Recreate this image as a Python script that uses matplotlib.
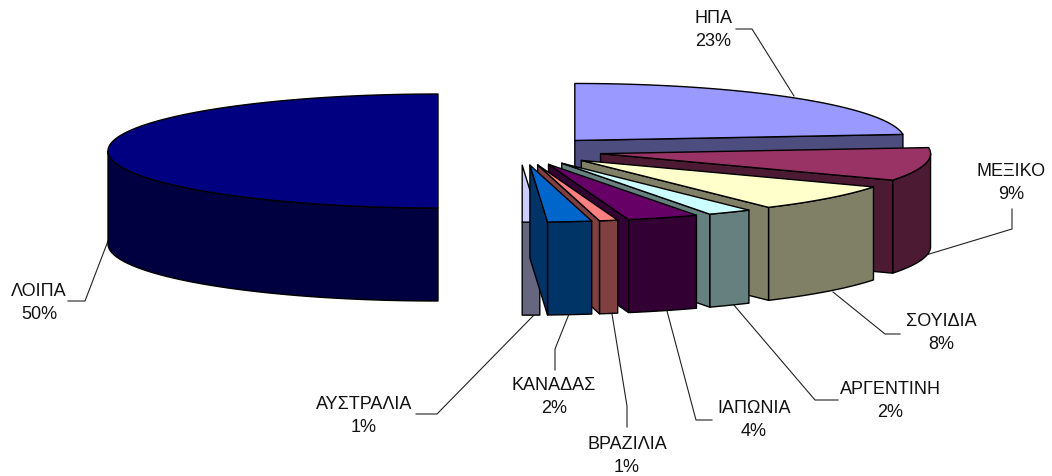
import numpy as np
import matplotlib
matplotlib.use('Agg')
import matplotlib.pyplot as plt
from matplotlib.patches import Polygon

plt.rcParams['font.family'] = ['Liberation Sans', 'DejaVu Sans']

# Data - labels are rounded, slice sizes estimated from the picture
countries = ['ΗΠΑ', 'ΜΕΞΙΚΟ', 'ΣΟΥΙΔΙΑ', 'ΑΡΓΕΝΤΙΝΗ', 'ΙΑΠΩΝΙΑ', 'ΒΡΑΖΙΛΙΑ', 'ΚΑΝΑΔΑΣ', 'ΑΥΣΤΡΑΛΙΑ', 'ΛΟΙΠΑ']
shares = [23.3, 9.4, 7.7, 2.2, 3.5, 0.9, 2.15, 0.85, 50]

top_colors = ['#9999FF', '#993366', '#FFFFCC', '#CCFFFF', '#660066', '#FF8080', '#0066CC', '#CCCCFF', '#000080']
side_colors = ['#4D4D80', '#4D1A33', '#808066', '#668080', '#330033', '#804040', '#003366', '#666680', '#000040']

# Pie geometry in pixels
cx, cy = 520, 152
rx, ry = 330, 57
depth = 93
explode = 82

# Australia goes under Canada in the original
draw_order = [8, 0, 1, 2, 3, 4, 5, 7, 6]

label_pos = [(713, 30), (1011, 183), (941, 333), (890, 401), (754, 420), (627, 456), (554, 397), (364, 416), (39, 303)]
leaders = [
    [(736, 30), (752, 30), (794, 97)],
    [(1012, 210), (1012, 230), (926, 256)],
    [(833, 293), (885, 335), (900, 335)],
    [(733, 305), (815, 401), (838, 401)],
    [(667, 312), (696, 421), (712, 421)],
    [(612, 315), (627, 407), (627, 428)],
    [(569, 315), (555, 350), (555, 371)],
    [(534, 316), (437, 415), (416, 415)],
    [(108, 242), (85, 302), (68, 302)],
]

fig = plt.figure(figsize=(10.52, 4.77), dpi=100)
ax = fig.add_axes([0, 0, 1, 1])
ax.set_xlim(0, 1052)
ax.set_ylim(477, 0)
ax.axis('off')


def arc(x0, y0, a0, a1):
    t = np.radians(np.linspace(a0, a1, 120))
    return np.column_stack([x0 + rx * np.sin(t), y0 - ry * np.cos(t)])


edges = np.cumsum([0] + shares) * 3.6

# leader lines sit behind the pie
for pts in leaders:
    xs, ys = zip(*pts)
    ax.plot(xs, ys, color='#222222', lw=0.8, zorder=1)

z = 2
for i in draw_order:
    a0, a1 = edges[i], edges[i + 1]
    mid = np.radians((a0 + a1) / 2)
    x0 = cx + explode * np.sin(mid)
    y0 = cy - explode * np.cos(mid) * ry / rx
    apex = np.array([[x0, y0]])
    down = np.array([0, depth])
    rim = arc(x0, y0, a0, a1)

    # outer wall: only the part facing the viewer (90..270 degrees)
    lo, hi = max(a0, 90), min(a1, 270)
    if lo < hi:
        wall = arc(x0, y0, lo, hi)
        ax.add_patch(Polygon(np.vstack([wall, (wall + down)[::-1]]), fc=side_colors[i],
                             ec='black', lw=1, joinstyle='round', zorder=z))
        z += 1
    # cut face at the clockwise end of the slice
    if a1 < 180:
        end = rim[-1]
        ax.add_patch(Polygon(np.array([apex[0], end, end + down, apex[0] + down]), fc=side_colors[i],
                             ec='black', lw=1, joinstyle='round', zorder=z))
        z += 1
    ax.add_patch(Polygon(np.vstack([apex, rim]), fc=top_colors[i], ec='black', lw=1,
                         joinstyle='round', zorder=z))
    z += 1

for name, share, (lx, ly) in zip(countries, shares, label_pos):
    ax.text(lx, ly, f'{name}\n{share:.0f}%', ha='center', va='center', fontsize=13,
            color='#111111', linespacing=1.4, zorder=z)

fig.savefig('out.png', dpi=100)
